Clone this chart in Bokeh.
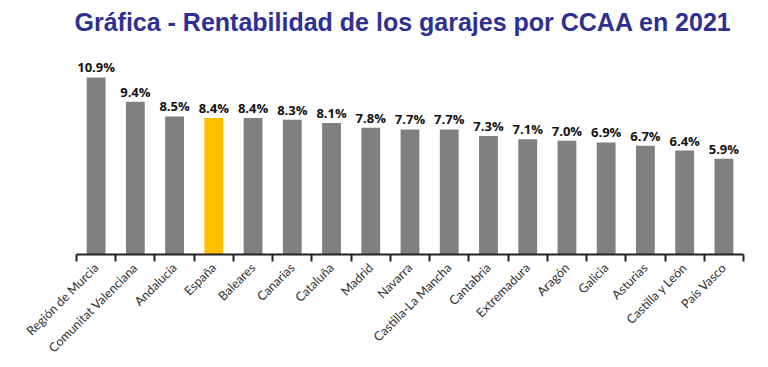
import math
from bokeh.plotting import figure
from bokeh.models import ColumnDataSource, LabelSet, Range1d, FixedTicker
from bokeh.core.properties import value
from bokeh.embed import file_html
from bokeh.resources import INLINE

categories = ["Región de Murcia", "Comunitat Valenciana", "Andalucía", "España", "Baleares",
              "Canarias", "Cataluña", "Madrid", "Navarra", "Castilla-La Mancha", "Cantabria",
              "Extremadura", "Aragón", "Galicia", "Asturias", "Castilla y León", "País Vasco"]
values = [10.9, 9.4, 8.5, 8.4, 8.4, 8.3, 8.1, 7.8, 7.7, 7.7, 7.3, 7.1, 7.0, 6.9, 6.7, 6.4, 5.9]
highlight = "España"

n = len(categories)
xs = [i + 0.5 for i in range(n)]
colors = ["#FFC000" if c == highlight else "#808080" for c in categories]
labels = [f"{v:.1f}%" for v in values]

src = ColumnDataSource(dict(x=xs, top=values, color=colors, label=labels))

p = figure(width=760, height=364, output_backend="svg", toolbar_location=None,
           x_range=Range1d(0, n), y_range=Range1d(0, 12.93),
           min_border_left=76, min_border_right=17, min_border_top=44, min_border_bottom=110)
p.outline_line_color = None
p.grid.visible = False
p.yaxis.visible = False
p.background_fill_color = "white"
p.border_fill_color = "white"

p.title.text = "Gráfica - Rentabilidad de los garajes por CCAA en 2021"
p.title.align = "left"
p.title.offset = -2
p.title.vertical_align = "top"
p.title.standoff = 14
p.title.text_font = "Liberation Sans"
p.title.text_font_style = "bold"
p.title.text_font_size = "25px"
p.title.text_color = "#2E3192"

p.vbar(x="x", top="top", width=0.48, bottom=0, color="color", source=src, line_color=None)

p.add_layout(LabelSet(x="x", y="top", text="label", source=src, text_align="center",
                      text_baseline="bottom", y_offset=1, text_font=value("Open Sans"),
                      text_font_style="bold", text_font_size="13px", text_color="#111111"))

ax = p.xaxis[0]
ax.ticker = FixedTicker(ticks=xs, minor_ticks=list(range(n + 1)))
ax.major_label_overrides = {x: c for x, c in zip(xs, categories)}
ax.major_label_orientation = math.pi / 4
ax.major_tick_out = 0
ax.major_tick_in = 0
ax.minor_tick_out = 7
ax.minor_tick_in = 0
ax.minor_tick_line_width = 2
ax.minor_tick_line_color = "#222222"
ax.axis_line_width = 2
ax.axis_line_color = "#222222"
ax.major_label_text_font = "Lato"
ax.major_label_text_font_size = "12.5px"
ax.major_label_text_color = "#333333"
ax.major_label_standoff = 4

open("out.html", "w").write(file_html(p, INLINE))
